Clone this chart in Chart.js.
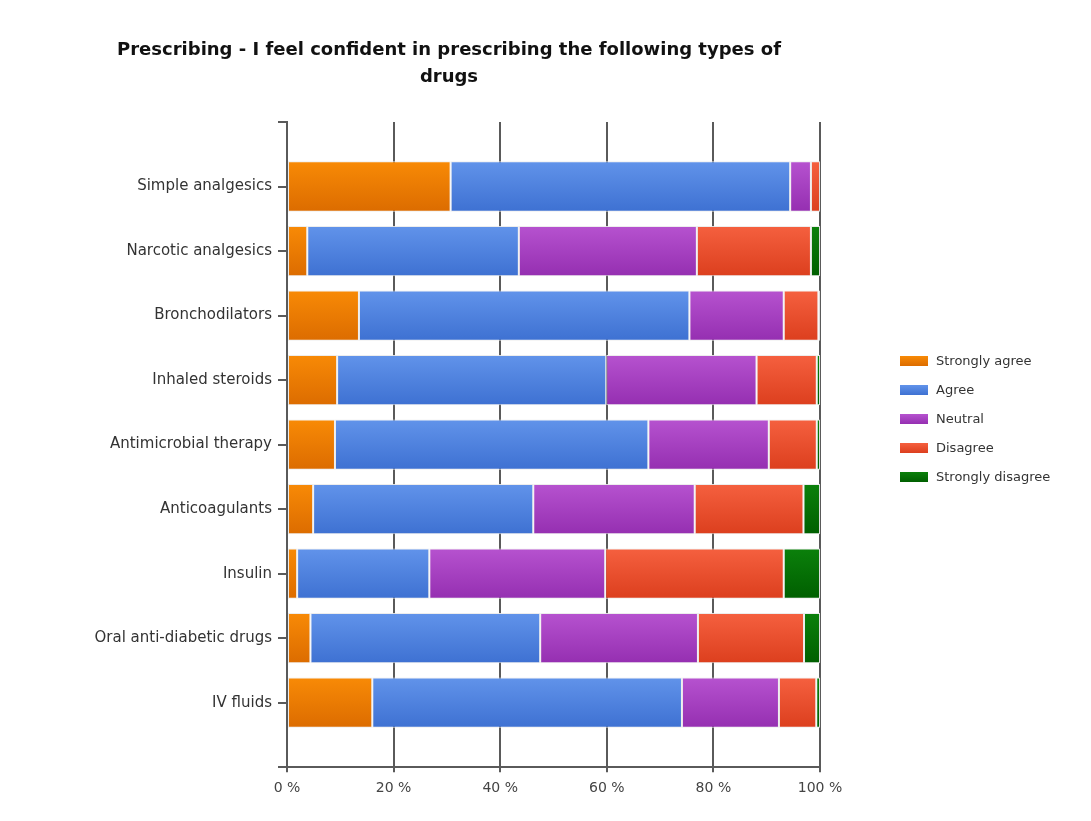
<!DOCTYPE html>
<html>
<head>
<meta charset="utf-8">
<title>Prescribing confidence</title>
<script src="https://cdn.jsdelivr.net/npm/chart.js@4/dist/chart.umd.min.js"></script>
<style>
    body { margin: 0; background: #fff; font-family: "DejaVu Sans", sans-serif; }
    #wrap { position: relative; width: 1091px; height: 821px; }
    #legend { position: absolute; left: 900px; top: 346px; margin: 0; padding: 0; list-style: none; }
    #legend li { height: 29px; line-height: 29px; font-size: 13px; color: #333; white-space: nowrap; }
    #legend li span { display: inline-block; width: 28px; height: 10px; margin-right: 8px; vertical-align: -1px; }
</style>
</head>
<body>
<div id="wrap">
    <canvas id="myChart"></canvas>
    <ul id="legend"></ul>
</div>
<script>
var categories = [
    'Simple analgesics', 'Narcotic analgesics', 'Bronchodilators', 'Inhaled steroids',
    'Antimicrobial therapy', 'Anticoagulants', 'Insulin', 'Oral anti-diabetic drugs', 'IV fluids'
];
var seriesNames = ['Strongly agree', 'Agree', 'Neutral', 'Disagree', 'Strongly disagree'];

/* percent of answers per drug type, same order as categories */
var stronglyAgree    = [30.7,  3.8, 13.5,  9.4,  9.0,  4.9,  1.9,  4.4, 16.0];
var agree            = [63.7, 39.7, 62.0, 50.5, 58.8, 41.3, 24.8, 43.1, 58.1];
var neutral          = [ 3.9, 33.4, 17.7, 28.2, 22.6, 30.3, 33.0, 29.6, 18.2];
var disagree         = [ 1.7, 21.4,  6.5, 11.3,  9.0, 20.4, 33.5, 19.9,  7.0];
var stronglyDisagree = [ 0.0,  1.7,  0.3,  0.6,  0.6,  3.1,  6.8,  3.0,  0.7];

var xTicks = [0, 20, 40, 60, 80, 100];

var series = [stronglyAgree, agree, neutral, disagree, stronglyDisagree];
var colorsTop    = ['#f88a06', '#6193ea', '#b652cf', '#f5603f', '#0b800b'];
var colorsBottom = ['#dc6c00', '#3e71d2', '#952fb1', '#dc3f1e', '#005f00'];

/* vertical shading like the original bars */
function barFill(i) {
    return function(ctx) {
        var yScale = ctx.chart.scales.y;
        if (!yScale || ctx.dataIndex === undefined) return colorsTop[i];
        var c = yScale.getPixelForValue(ctx.dataIndex);
        if (!isFinite(c)) return colorsTop[i];
        var g = ctx.chart.ctx.createLinearGradient(0, c - 25, 0, c + 25);
        g.addColorStop(0, colorsTop[i]);
        g.addColorStop(1, colorsBottom[i]);
        return g;
    };
}

var datasets = series.map(function(values, i) {
    return {
        label: seriesNames[i],
        data: values,
        stack: 'all',
        backgroundColor: barFill(i),
        borderColor: 'rgba(235,235,235,0.9)',
        borderWidth: 1,
        borderSkipped: false,
        categoryPercentage: 1,
        barPercentage: 0.78
    };
});

/* legend */
var legend = document.getElementById('legend');
seriesNames.forEach(function(name, i) {
    var li = document.createElement('li');
    var box = document.createElement('span');
    box.style.background = 'linear-gradient(' + colorsTop[i] + ',' + colorsBottom[i] + ')';
    li.appendChild(box);
    li.appendChild(document.createTextNode(name));
    legend.appendChild(li);
});

/* Chart */
var axisColor = '#5a5a5a';
var ctx = document.getElementById('myChart');
var myChart = new Chart(ctx, {
    type: 'bar',
    data: {
        labels: categories.map(function(c, i) { return i; }),
        datasets: datasets
    },
    options: {
        indexAxis: 'y',
        responsive: true,
        maintainAspectRatio: false,
        animation: false,
        layout: { padding: { top: 27, left: 78, right: 271, bottom: 16 } },
        plugins: {
            legend: { display: false },
            tooltip: { enabled: false },
            title: {
                display: true,
                text: ['Prescribing - I feel confident in prescribing the following types of', 'drugs'],
                color: '#111',
                font: { family: 'DejaVu Sans', size: 18, weight: 'bold', lineHeight: 1.5 },
                padding: { top: 10, bottom: 31 }
            }
        },
        scales: {
            x: {
                stacked: true,
                min: 0,
                max: 100,
                afterBuildTicks: function(axis) {
                    axis.ticks = xTicks.map(function(v) { return { value: v }; });
                },
                ticks: {
                    color: '#444',
                    padding: 8,
                    font: { family: 'DejaVu Sans', size: 14 },
                    callback: function(v) { return v + ' %'; }
                },
                grid: { color: axisColor, lineWidth: 2, tickLength: 5 },
                border: { color: axisColor, width: 2 }
            },
            y: {
                type: 'linear',
                stacked: true,
                reverse: true,
                offset: false,
                min: -1,
                max: categories.length,
                afterFit: function(axis) { axis.width = 209; },
                ticks: {
                    stepSize: 1,
                    autoSkip: false,
                    color: '#333',
                    padding: 6,
                    font: { family: 'DejaVu Sans', size: 15 },
                    callback: function(v) { return categories[v] || ''; }
                },
                grid: { drawOnChartArea: false, offset: false, color: axisColor, lineWidth: 2, tickLength: 9 },
                border: { color: axisColor, width: 2 }
            }
        }
    }
});
</script>
</body>
</html>
